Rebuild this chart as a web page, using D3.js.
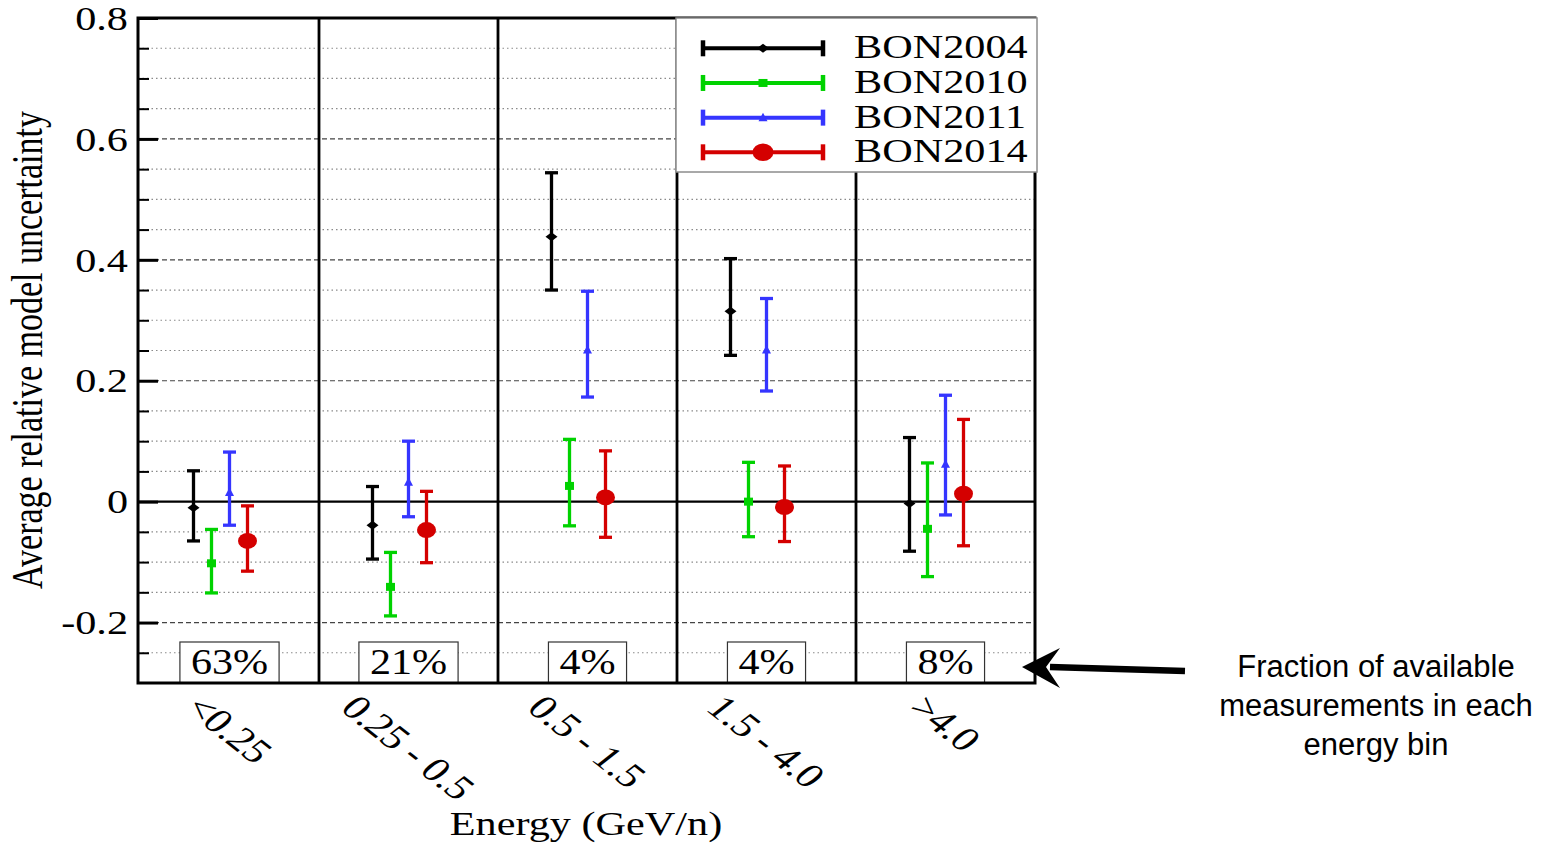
<!DOCTYPE html>
<html>
<head>
<meta charset="utf-8">
<script src="https://cdn.jsdelivr.net/npm/d3@7"></script>
<style>
  html, body { margin: 0; padding: 0; background: #fff; }
  svg { display: block; }
</style>
</head>
<body>
<svg id="chart" width="1543" height="844"></svg>
<script>
// ---- data ----
const categories = ["<0.25", "0.25 - 0.5", "0.5 - 1.5", "1.5 - 4.0", ">4.0"];
const fractions = ["63%", "21%", "4%", "4%", "8%"];
const seriesNames = ["BON2004", "BON2010", "BON2011", "BON2014"];

const bon2004Mean = [-0.010, -0.039, 0.438, 0.315, -0.003];
const bon2004Low  = [-0.065, -0.095, 0.350, 0.242, -0.082];
const bon2004High = [ 0.051,  0.025, 0.544, 0.402,  0.106];

const bon2010Mean = [-0.102, -0.141,  0.026,  0.000, -0.045];
const bon2010Low  = [-0.151, -0.189, -0.040, -0.058, -0.124];
const bon2010High = [-0.046, -0.084,  0.103,  0.065,  0.064];

const bon2011Mean = [ 0.015,  0.032, 0.251, 0.251,  0.062];
const bon2011Low  = [-0.039, -0.025, 0.173, 0.183, -0.022];
const bon2011High = [ 0.082,  0.100, 0.348, 0.336,  0.176];

const bon2014Mean = [-0.065, -0.047,  0.007, -0.009,  0.013];
const bon2014Low  = [-0.115, -0.101, -0.059, -0.066, -0.073];
const bon2014High = [-0.007,  0.017,  0.084,  0.059,  0.136];

const yMajorTicks = [-0.2, 0, 0.2, 0.4, 0.6, 0.8];
const yTickLabels = ["-0.2", "0", "0.2", "0.4", "0.6", "0.8"];
const yMinorTicks = [-0.25, -0.15, -0.1, -0.05, 0.05, 0.1, 0.15, 0.25, 0.3, 0.35,
                     0.45, 0.5, 0.55, 0.65, 0.7, 0.75];

// ---- styling / layout ----
const SX = 1.28;                      // horizontal glyph stretch of the serif text
const serif = "'Liberation Serif', 'Times New Roman', serif";
const sans = "'Liberation Sans', Arial, sans-serif";
const colors = { BON2004: "#000000", BON2010: "#00d200", BON2011: "#3535ff", BON2014: "#d40000" };
const markerKind = { BON2004: "diamond", BON2010: "square", BON2011: "triangle", BON2014: "circle" };

const plot = { left: 138, right: 1035, top: 18, bottom: 683 };

const series = [
  { name: "BON2004", mean: bon2004Mean, low: bon2004Low, high: bon2004High },
  { name: "BON2010", mean: bon2010Mean, low: bon2010Low, high: bon2010High },
  { name: "BON2011", mean: bon2011Mean, low: bon2011Low, high: bon2011High },
  { name: "BON2014", mean: bon2014Mean, low: bon2014Low, high: bon2014High }
];

const svg = d3.select("#chart");
svg.append("rect").attr("width", 1543).attr("height", 844).attr("fill", "#fff");

const x = d3.scaleBand().domain(categories).range([plot.left + 2, plot.right]).padding(0);
const xOff = d3.scalePoint().domain(seriesNames).range([-36, 18]);
const y = d3.scaleLinear().domain([-0.3, 0.8]).range([plot.bottom, plot.top]);
const bc = c => x(c) + x.bandwidth() / 2;

// grid lines
const grid = svg.append("g");
grid.selectAll("line.minor").data(yMinorTicks).join("line")
  .attr("x1", plot.left).attr("x2", plot.right)
  .attr("y1", d => y(d)).attr("y2", d => y(d))
  .attr("stroke", "#8a8a8a").attr("stroke-width", 1.2).attr("stroke-dasharray", "1.5,3");
grid.selectAll("line.major").data(yMajorTicks.filter(v => v !== 0 && v !== 0.8)).join("line")
  .attr("x1", plot.left).attr("x2", plot.right)
  .attr("y1", d => y(d)).attr("y2", d => y(d))
  .attr("stroke", "#444").attr("stroke-width", 1.2).attr("stroke-dasharray", "5,3");
// zero line
svg.append("line")
  .attr("x1", plot.left).attr("x2", plot.right)
  .attr("y1", y(0)).attr("y2", y(0))
  .attr("stroke", "#000").attr("stroke-width", 2.2);

// bin separators
svg.append("g").selectAll("line").data(categories.slice(1)).join("line")
  .attr("x1", d => x(d)).attr("x2", d => x(d))
  .attr("y1", plot.top).attr("y2", plot.bottom)
  .attr("stroke", "#000").attr("stroke-width", 2.8);

// fraction boxes
const fracG = svg.append("g");
fractions.forEach((f, i) => {
  const cx = bc(categories[i]);
  const g = fracG.append("g");
  const r = g.append("rect").attr("fill", "#fff").attr("stroke", "#333").attr("stroke-width", 1.2);
  const t = g.append("text").text(f)
    .attr("font-family", serif).attr("font-size", 35).attr("text-anchor", "middle")
    .attr("transform", `translate(${cx},674) scale(${SX * 0.94},1)`);
  const w = t.node().getComputedTextLength() * SX * 0.94 + 22;
  r.attr("x", cx - w / 2).attr("y", 642).attr("width", w).attr("height", plot.bottom - 642);
});

// marker shapes
function drawMarker(sel, kind, cx, cy, color, s = 1) {
  if (kind === "diamond") {
    sel.append("path").attr("d", `M${cx - 6 * s},${cy} L${cx},${cy - 4.5 * s} L${cx + 6 * s},${cy} L${cx},${cy + 4.5 * s} Z`).attr("fill", color);
  } else if (kind === "square") {
    sel.append("rect").attr("x", cx - 4.5 * s).attr("y", cy - 4 * s).attr("width", 9 * s).attr("height", 8 * s).attr("fill", color);
  } else if (kind === "triangle") {
    sel.append("path").attr("d", `M${cx - 4.5 * s},${cy + 3.5 * s} L${cx},${cy - 5 * s} L${cx + 4.5 * s},${cy + 3.5 * s} Z`).attr("fill", color);
  } else {
    sel.append("ellipse").attr("cx", cx).attr("cy", cy).attr("rx", 9.5 * s).attr("ry", 8 * s).attr("fill", color);
  }
}

// error bars
const barsG = svg.append("g");
series.forEach(s => {
  const col = colors[s.name];
  categories.forEach((c, i) => {
    const px = bc(c) + xOff(s.name);
    const g = barsG.append("g");
    g.append("line").attr("x1", px).attr("x2", px)
      .attr("y1", y(s.low[i])).attr("y2", y(s.high[i]))
      .attr("stroke", col).attr("stroke-width", 3.3);
    [s.low[i], s.high[i]].forEach(v => {
      g.append("line").attr("x1", px - 6.5).attr("x2", px + 6.5)
        .attr("y1", y(v)).attr("y2", y(v))
        .attr("stroke", col).attr("stroke-width", 3.3);
    });
    drawMarker(g, markerKind[s.name], px, y(s.mean[i]), col);
  });
});

// frame
svg.append("rect")
  .attr("x", plot.left).attr("y", plot.top)
  .attr("width", plot.right - plot.left).attr("height", plot.bottom - plot.top)
  .attr("fill", "none").attr("stroke", "#000").attr("stroke-width", 3);

// y axis: major ticks with labels, minor ticks without
const yAxisMajor = d3.axisLeft(y).tickValues(yMajorTicks)
  .tickFormat((d, i) => yTickLabels[i])
  .tickSizeInner(-20).tickSizeOuter(0).tickPadding(10);
const yMajG = svg.append("g").attr("transform", `translate(${plot.left},0)`).call(yAxisMajor);
yMajG.select(".domain").remove();
yMajG.selectAll(".tick line").attr("stroke", "#000").attr("stroke-width", 3);
yMajG.selectAll(".tick text")
  .attr("font-family", serif).attr("font-size", 33).attr("fill", "#000")
  .attr("text-anchor", "end").attr("x", 0).attr("dy", "0.34em")
  .attr("transform", `translate(-10,0) scale(${SX},1)`);

const yAxisMinor = d3.axisLeft(y).tickValues(yMinorTicks).tickFormat("")
  .tickSizeInner(-11).tickSizeOuter(0);
const yMinG = svg.append("g").attr("transform", `translate(${plot.left},0)`).call(yAxisMinor);
yMinG.select(".domain").remove();
yMinG.selectAll(".tick line").attr("stroke", "#000").attr("stroke-width", 2);

// x axis category labels, rotated
const xAxis = d3.axisBottom(x).tickSize(0).tickPadding(0);
const xG = svg.append("g").attr("transform", `translate(0,${plot.bottom})`).call(xAxis);
xG.select(".domain").remove();
xG.selectAll(".tick text").each(function (d) {
  const t = d3.select(this);
  t.attr("font-family", serif).attr("font-size", 34).attr("fill", "#000")
    .attr("text-anchor", "start").attr("x", 0).attr("y", 0).attr("dy", null)
    .attr("transform", `scale(${SX},1) rotate(45)`);
  const b = this.getBoundingClientRect();
  const dx = bc(d) - (b.left + b.right) / 2;
  const dy = 688 - b.top;
  t.attr("transform", `translate(${dx},${dy}) scale(${SX},1) rotate(45)`);
});

// axis titles
svg.append("text").text("Energy (GeV/n)")
  .attr("font-family", serif).attr("font-size", 33).attr("text-anchor", "middle")
  .attr("transform", `translate(586,835) scale(${SX},1)`);
svg.append("text").text("Average relative model uncertainty")
  .attr("font-family", serif).attr("font-size", 34).attr("text-anchor", "middle")
  .attr("transform", `translate(42,350) scale(${SX},1) rotate(-90)`);

// legend
const legend = { x: 676, y: 18, w: 361, h: 154 };
const lg = svg.append("g");
lg.append("rect").attr("x", legend.x).attr("y", legend.y).attr("width", legend.w).attr("height", legend.h)
  .attr("fill", "#fff").attr("stroke", "#8c8c8c").attr("stroke-width", 1.5);
const rowY = d3.scalePoint().domain(seriesNames).range([48.3, 152.3]);
seriesNames.forEach(n => {
  const col = colors[n];
  const ry = rowY(n);
  lg.append("line").attr("x1", 703).attr("x2", 823).attr("y1", ry).attr("y2", ry)
    .attr("stroke", col).attr("stroke-width", 4);
  [703, 823].forEach(cx => {
    lg.append("line").attr("x1", cx).attr("x2", cx).attr("y1", ry - 8).attr("y2", ry + 8)
      .attr("stroke", col).attr("stroke-width", 4.5);
  });
  drawMarker(lg, markerKind[n], 763, ry, col, n === "BON2014" ? 1.1 : 1);
  lg.append("text").text(n)
    .attr("font-family", serif).attr("font-size", 33).attr("fill", "#000")
    .attr("transform", `translate(854,${ry + 10}) scale(${SX},1)`);
});

// annotation: arrow and note
const ann = svg.append("g");
ann.append("path")
  .attr("d", "M1185,671 L1050,667")
  .attr("stroke", "#000").attr("stroke-width", 6.5).attr("fill", "none");
ann.append("path")
  .attr("d", "M1022,667 L1060,648 L1046,667 L1060,688 Z")
  .attr("fill", "#000");
const noteLines = ["Fraction of available", "measurements in each", "energy bin"];
ann.selectAll("text.note").data(noteLines).join("text")
  .attr("x", 1376).attr("y", (d, i) => 677 + i * 39)
  .attr("text-anchor", "middle").attr("font-family", sans).attr("font-size", 31)
  .attr("fill", "#000").text(d => d);
</script>
</body>
</html>
